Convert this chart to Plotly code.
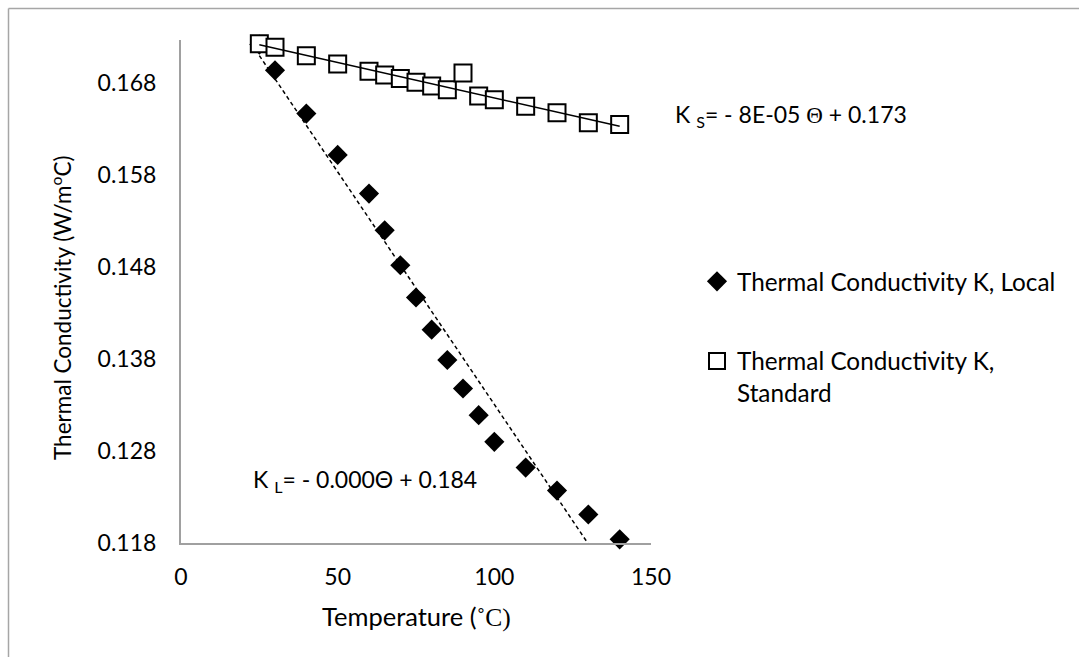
import numpy as np
import plotly.graph_objects as go

# ---- data ----
temp_local = [25, 30, 40, 50, 60, 65, 70, 75, 80, 85, 90, 95, 100, 110, 120, 130, 140]
k_local = [0.1722, 0.1694, 0.1647, 0.1602, 0.1560, 0.1520, 0.1482, 0.1447, 0.1412,
           0.1379, 0.1348, 0.1319, 0.1290, 0.1262, 0.1237, 0.1211, 0.1184]
temp_std = [25, 30, 40, 50, 60, 65, 70, 75, 80, 85, 90, 95, 100, 110, 120, 130, 140]
k_std = [0.1723, 0.1719, 0.1710, 0.1701, 0.1693, 0.1689, 0.1685, 0.1681, 0.1677,
         0.1673, 0.1691, 0.1666, 0.1662, 0.1655, 0.1648, 0.1637, 0.1635]
x_ticks = [0, 50, 100, 150]
y_ticks = [0.118, 0.128, 0.138, 0.148, 0.158, 0.168]
name_local = "Thermal Conductivity K, Local"
name_std = "Thermal Conductivity K,<br>Standard"
eq_std = "K <sub>S</sub>= - 8E-05 <span style='font-family:\"Liberation Serif\"'>Θ</span> + 0.173"
eq_local = "K <sub>L</sub>= - 0.000Θ + 0.184"
x_title = "Temperature (<span style='font-family:\"Liberation Serif\"'>˚C)</span>"
y_title = "Thermal Conductivity (W/m<sup>o</sup>C)"

# linear trendlines computed from the data
sl_l, ic_l = np.polyfit(temp_local, k_local, 1)
sl_s, ic_s = np.polyfit(temp_std, k_std, 1)
xl = np.array([min(temp_local), max(temp_local)])
xs = np.array([min(temp_std), max(temp_std)])

W, H = 1079, 657
L, R, T, B = 181, 428, 40, 114
pw, ph = W - L - R, H - T - B
def px(x):
    return (x - L) / pw
def py(y):
    return (H - B - y) / ph

FONT = "Lato"
fig = go.Figure()
fig.add_trace(go.Scatter(x=temp_local, y=k_local, mode="markers", name=name_local,
                         legendgroup="a", cliponaxis=False,
                         marker=dict(symbol="diamond", size=15.5, color="black",
                                     line=dict(width=0))))
fig.add_trace(go.Scatter(x=temp_std, y=k_std, mode="markers", name=name_std,
                         legendgroup="b", cliponaxis=False,
                         marker=dict(symbol="square", size=17, color="white",
                                     line=dict(width=2, color="black"))))
fig.add_trace(go.Scatter(x=xl, y=ic_l + sl_l * xl, mode="lines", showlegend=False,
                         line=dict(color="black", width=1.5, dash="4px,3px")))
fig.add_trace(go.Scatter(x=xs, y=ic_s + sl_s * xs, mode="lines", showlegend=False,
                         line=dict(color="black", width=1.5)))

fig.update_layout(
    width=W, height=H,
    margin=dict(l=L, r=R, t=T, b=B),
    paper_bgcolor="white", plot_bgcolor="white",
    font=dict(family=FONT, size=23, color="black"),
    showlegend=True,
    legend=dict(x=px(697), y=py(259), xanchor="left", yanchor="top",
                font=dict(size=24.3), tracegroupgap=45, itemwidth=30,
                valign="top", bgcolor="rgba(0,0,0,0)"),
    xaxis=dict(range=[0, 150], tickvals=x_ticks, showgrid=False, zeroline=False,
               showline=True, linecolor="#a0a0a0", linewidth=2, ticks="",
               ticklabelstandoff=12, tickfont=dict(size=23)),
    yaxis=dict(range=[0.118, 0.1727], tickvals=y_ticks, tickformat=".3f",
               showgrid=False, zeroline=False, showline=True, linecolor="#a0a0a0",
               linewidth=2, ticks="", ticklabelstandoff=18, tickfont=dict(size=23)),
    annotations=[
        dict(text=eq_std, x=px(673), y=py(115), xref="paper", yref="paper",
             xanchor="left", yanchor="middle", showarrow=False, font=dict(size=23)),
        dict(text=eq_local, x=px(251), y=py(480), xref="paper", yref="paper",
             xanchor="left", yanchor="middle", showarrow=False, font=dict(size=23)),
        dict(text=x_title, x=px(416), y=py(617), xref="paper", yref="paper",
             xanchor="center", yanchor="middle", showarrow=False, font=dict(size=25.5)),
        dict(text=y_title, x=px(61), y=py(308), xref="paper", yref="paper",
             xanchor="center", yanchor="middle", textangle=-90, showarrow=False,
             font=dict(size=22.5)),
    ],
    shapes=[
        dict(type="line", xref="paper", yref="paper", x0=px(8.5), x1=px(1100),
             y0=py(8.5), y1=py(8.5), line=dict(color="#a6a6a6", width=1.5)),
        dict(type="line", xref="paper", yref="paper", x0=px(8.5), x1=px(8.5),
             y0=py(8.5), y1=py(700), line=dict(color="#a6a6a6", width=1.5)),
    ],
)
fig.write_html("out.html")
